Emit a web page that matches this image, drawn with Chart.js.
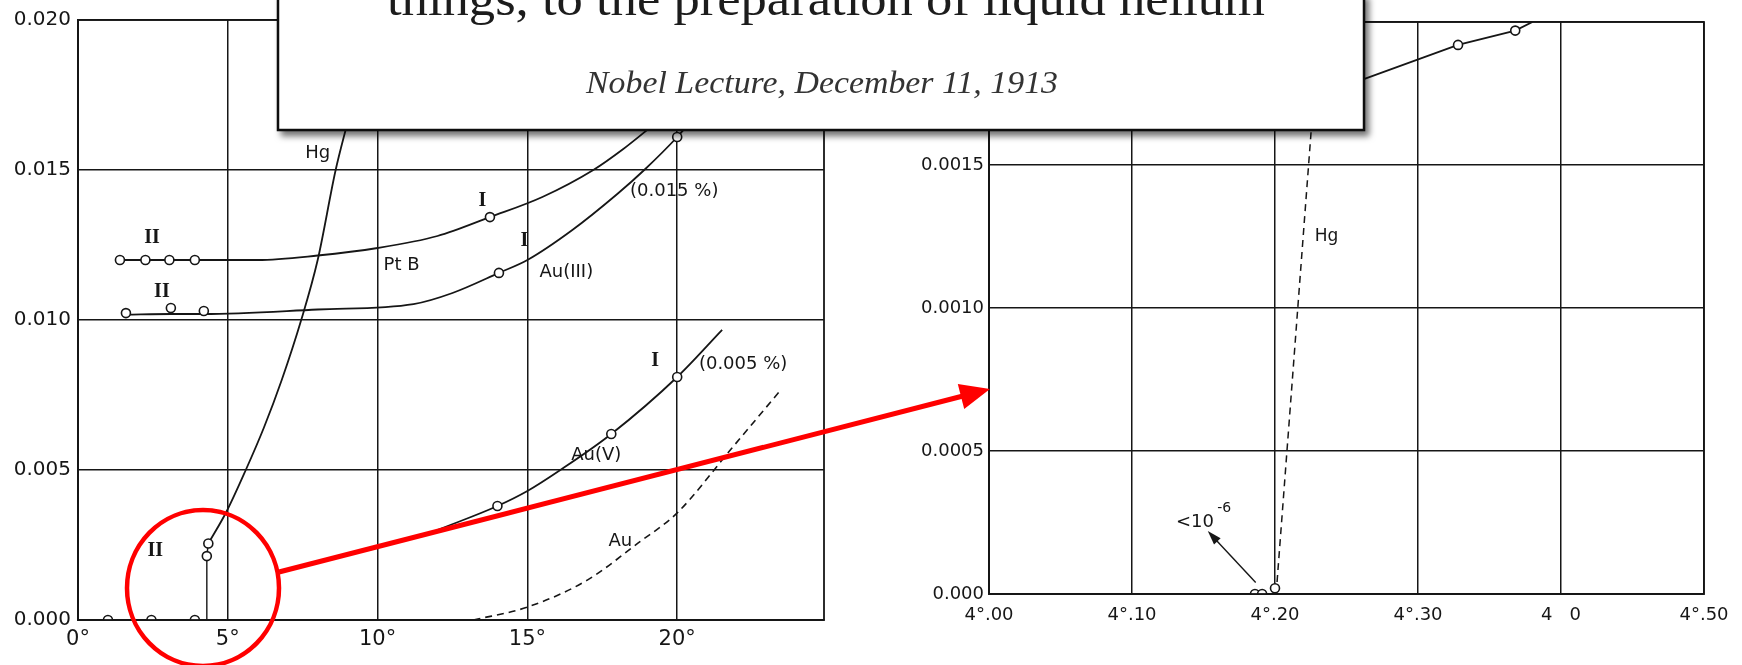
<!DOCTYPE html>
<html>
<head>
<meta charset="utf-8">
<script src="https://cdn.jsdelivr.net/npm/chart.js@4.4.1/dist/chart.umd.min.js"></script>
<style>
  html, body { margin: 0; padding: 0; background: #fff; }
  #page { position: relative; width: 1742px; height: 665px; overflow: hidden; }
  .panel { position: absolute; top: 0; height: 665px; }
  #leftPanel { left: 0; width: 840px; }
  #rightPanel { left: 880px; width: 862px; }
  #overlay { position: absolute; left: 0; top: 0; pointer-events: none; }
</style>
</head>
<body>
<div id="page">
  <div class="panel" id="leftPanel"><canvas id="leftChart"></canvas></div>
  <div class="panel" id="rightPanel"><canvas id="rightChart"></canvas></div>
  <svg id="overlay" width="1742" height="665">
    <defs>
      <filter id="boxShadow" x="-5%" y="-30%" width="112%" height="160%">
        <feDropShadow dx="4" dy="5" stdDeviation="3" flood-color="#000" flood-opacity="0.55"/>
      </filter>
    </defs>
    <rect x="278" y="-6" width="1086" height="136" fill="#fff" stroke="#111" stroke-width="2.5" filter="url(#boxShadow)"/>
    <text x="826" y="15" text-anchor="middle" font-family="'Liberation Serif', serif" font-size="48" fill="#1c1c1c"
          textLength="878" lengthAdjust="spacingAndGlyphs">things, to the preparation of liquid helium</text>
    <text x="822" y="93" text-anchor="middle" font-family="'Liberation Serif', serif" font-style="italic" font-size="32" fill="#333"
          textLength="472" lengthAdjust="spacingAndGlyphs">Nobel Lecture, December 11, 1913</text>
    <!-- zoom marker: circle round the jump, arrow to the detail plot -->
    <ellipse cx="203" cy="588" rx="76" ry="78" fill="none" stroke="#f00" stroke-width="4.5"/>
    <line x1="279" y1="572" x2="963" y2="396" stroke="#f00" stroke-width="5"/>
    <polygon points="990,389 957.8,383.9 964.2,409.1" fill="#f00"/>
  </svg>
</div>

<script>
// Resistance ratio w/w0 against temperature (K), wide range
const ptbPointT = [1.4, 2.25, 3.05, 3.9];
const ptbPointR = [0.0120, 0.0120, 0.0120, 0.0120];
const ptbUpperT = [13.75];
const ptbUpperR = [0.01343];
const ptbCurveT = [1.4, 3.9, 6, 8, 10, 12, 13.75, 15.5, 17.2, 18.2, 19.2];
const ptbCurveR = [0.0120, 0.0120, 0.0120, 0.01215, 0.0124, 0.0128, 0.01343, 0.0141, 0.0150, 0.0157, 0.0165];

const au3PointT = [1.6, 3.1, 4.2, 14.05, 20.0];
const au3PointR = [0.01023, 0.0104, 0.0103, 0.01157, 0.0161];
const au3CurveT = [1.6, 3.1, 4.2, 8, 11.2, 12.5, 14.05, 15, 16.5, 18, 18.9, 20.0, 20.6];
const au3CurveR = [0.01018, 0.0102, 0.0102, 0.01035, 0.01053, 0.0109, 0.01157, 0.0120, 0.0130, 0.0142, 0.0150, 0.0161, 0.0168];

const au5PointT = [14.0, 17.8, 20.0];
const au5PointR = [0.0038, 0.0062, 0.0081];
const au5CurveT = [12.0, 14.0, 15.0, 16.1, 17.8, 20.0, 21.5];
const au5CurveR = [0.0030, 0.0038, 0.0043, 0.0050, 0.0062, 0.0081, 0.00967];

const auPureT = [13.2, 15.0, 17.0, 18.7, 20.0, 21.8, 23.4];
const auPureR = [0, 0.00043, 0.00133, 0.00257, 0.00357, 0.0057, 0.0076];

const hgPointT = [1.0, 2.45, 3.9, 4.3, 4.35];
const hgPointR = [0, 0, 0, 0.00213, 0.00255];
const hgStepT = [0, 3.9, 4.3, 4.3, 4.35];
const hgStepR = [0, 0, 0, 0.00213, 0.00255];
const hgCurveT = [4.35, 4.95, 5.6, 6.2, 6.8, 7.45, 8.0, 8.6, 9.0];
const hgCurveR = [0.00255, 0.0036, 0.0050, 0.0064, 0.0080, 0.0100, 0.0120, 0.0150, 0.0166];

// Detail near the helium boiling point
const hgDetailT = [4.2008, 4.225, 4.2305];
const hgDetailR = [0, 0.0016, 0.0020];
const hgHighT = [4.24, 4.328, 4.368, 4.38];
const hgHighR = [0.00176, 0.00192, 0.00197, 0.0020];
const hgHighPointT = [4.328, 4.368];
const hgHighPointR = [0.00192, 0.00197];
const hgLowPointT = [4.186, 4.191, 4.200];
const hgLowPointR = [0, 0, 0.00002];

// Tick labels
const leftXTickLabels = ['0°', '5°', '10°', '15°', '20°'];
const leftYTickLabels = ['0.000', '0.005', '0.010', '0.015', '0.020'];
const rightXTickLabels = ['4°.00', '4°.10', '4°.20', '4°.30', '4   0', '4°.50'];
const rightYTickLabels = ['0.000', '0.0005', '0.0010', '0.0015', ''];

const INK = '#161616';
const SANS = "'DejaVu Sans', sans-serif";
const ROMAN = "bold 20px 'Liberation Serif', serif";

function pairs(xs, ys) {
    return xs.map((x, i) => ({ x: x, y: ys[i] }));
}

function curve(xs, ys, extra) {
    return Object.assign({
        data: pairs(xs, ys),
        showLine: true,
        borderColor: INK,
        borderWidth: 1.8,
        pointRadius: 0,
        tension: 0.4,
        cubicInterpolationMode: 'monotone',
        fill: false,
        order: 2
    }, extra || {});
}

function points(xs, ys) {
    return {
        data: pairs(xs, ys),
        showLine: false,
        pointRadius: 4.5,
        pointBorderWidth: 1.6,
        pointBorderColor: INK,
        pointBackgroundColor: '#fff',
        order: 0
    };
}

// frame round the plot, text labels and small arrows placed in data units
const framePlugin = {
    id: 'frameAndLabels',
    afterDatasetsDraw(chart, args, opts) {
        const { ctx, chartArea: a } = chart;
        const xs = chart.scales.x, ys = chart.scales.y;
        ctx.save();
        ctx.strokeStyle = INK;
        ctx.lineWidth = 1.8;
        ctx.strokeRect(a.left, a.top, a.right - a.left, a.bottom - a.top);
        ctx.fillStyle = INK;
        ctx.textAlign = 'center';
        ctx.textBaseline = 'middle';
        (opts.labels || []).forEach(l => {
            ctx.font = l.font;
            ctx.fillText(l.text, xs.getPixelForValue(l.x), ys.getPixelForValue(l.y));
        });
        (opts.arrows || []).forEach(ar => {
            const x1 = xs.getPixelForValue(ar.from[0]), y1 = ys.getPixelForValue(ar.from[1]);
            const x2 = xs.getPixelForValue(ar.to[0]), y2 = ys.getPixelForValue(ar.to[1]);
            const ang = Math.atan2(y2 - y1, x2 - x1);
            ctx.lineWidth = 1.4;
            ctx.beginPath();
            ctx.moveTo(x1, y1);
            ctx.lineTo(x2 - 10 * Math.cos(ang), y2 - 10 * Math.sin(ang));
            ctx.stroke();
            ctx.beginPath();
            ctx.moveTo(x2, y2);
            ctx.lineTo(x2 - 14 * Math.cos(ang) + 4.5 * Math.sin(ang), y2 - 14 * Math.sin(ang) - 4.5 * Math.cos(ang));
            ctx.lineTo(x2 - 14 * Math.cos(ang) - 4.5 * Math.sin(ang), y2 - 14 * Math.sin(ang) + 4.5 * Math.cos(ang));
            ctx.closePath();
            ctx.fill();
        });
        ctx.restore();
    }
};

function axisOptions(o) {
    return {
        type: 'linear',
        min: o.min,
        max: o.max,
        grid: { color: INK, lineWidth: 1.5, drawTicks: false },
        border: { display: true, color: INK, width: 1.8 },
        ticks: {
            stepSize: o.step,
            includeBounds: false,
            padding: o.padding,
            color: INK,
            font: { family: SANS, size: o.fontSize },
            callback: (v, i) => o.labels[i]
        },
        afterFit: o.afterFit
    };
}

function makeChart(id, datasets, o) {
    return new Chart(document.getElementById(id), {
        type: 'scatter',
        data: { datasets: datasets },
        plugins: [framePlugin],
        options: {
            responsive: true,
            maintainAspectRatio: false,
            animation: false,
            layout: { padding: o.padding },
            plugins: {
                legend: { display: false },
                tooltip: { enabled: false },
                frameAndLabels: { labels: o.labels, arrows: o.arrows || [] }
            },
            scales: { x: o.x, y: o.y }
        }
    });
}

const LABEL = '18px ' + SANS;

makeChart('leftChart', [
    points(ptbPointT, ptbPointR),
    points(ptbUpperT, ptbUpperR),
    points(au3PointT, au3PointR),
    points(au5PointT, au5PointR),
    points(hgPointT, hgPointR),
    curve(ptbCurveT, ptbCurveR),
    curve(au3CurveT, au3CurveR),
    curve(au5CurveT, au5CurveR),
    curve(auPureT, auPureR, { borderDash: [7, 5], borderWidth: 1.6 }),
    curve(hgStepT, hgStepR, { tension: 0, cubicInterpolationMode: 'default', borderWidth: 1.4 }),
    curve(hgCurveT, hgCurveR)
], {
    padding: { top: 20, right: 16, left: 0, bottom: 0 },
    x: axisOptions({ min: 0, max: 24.9, step: 5, padding: 7, fontSize: 21, labels: leftXTickLabels,
                     afterFit: s => { s.height = 45; } }),
    y: axisOptions({ min: 0, max: 0.020, step: 0.005, padding: 7, fontSize: 20, labels: leftYTickLabels,
                     afterFit: s => { s.width = 78; } }),
    labels: [
        { text: 'Hg', x: 8.0, y: 0.01556, font: LABEL },
        { text: 'II', x: 2.47, y: 0.01274, font: ROMAN },
        { text: 'I', x: 13.5, y: 0.01396, font: ROMAN },
        { text: 'Pt B', x: 10.8, y: 0.01181, font: LABEL },
        { text: 'I', x: 14.9, y: 0.01263, font: ROMAN },
        { text: 'Au(III)', x: 16.3, y: 0.01159, font: LABEL },
        { text: '(0.015 %)', x: 19.9, y: 0.0143, font: LABEL },
        { text: 'II', x: 2.8, y: 0.01093, font: ROMAN },
        { text: 'I', x: 19.26, y: 0.00863, font: ROMAN },
        { text: '(0.005 %)', x: 22.2, y: 0.00852, font: LABEL },
        { text: 'Au(V)', x: 17.3, y: 0.00548, font: LABEL },
        { text: 'Au', x: 18.1, y: 0.00263, font: LABEL },
        { text: 'II', x: 2.58, y: 0.0023, font: ROMAN }
    ]
});

makeChart('rightChart', [
    points(hgHighPointT, hgHighPointR),
    points(hgLowPointT, hgLowPointR),
    curve(hgHighT, hgHighR, { tension: 0, cubicInterpolationMode: 'default' }),
    curve(hgDetailT, hgDetailR, { tension: 0, cubicInterpolationMode: 'default', borderDash: [7, 5], borderWidth: 1.5 })
], {
    padding: { top: 22, right: 38, left: 0, bottom: 0 },
    x: axisOptions({ min: 4.0, max: 4.5, step: 0.1, padding: 11, fontSize: 18, labels: rightXTickLabels,
                     afterFit: s => { s.height = 71; } }),
    y: axisOptions({ min: 0, max: 0.002, step: 0.0005, padding: 5, fontSize: 18, labels: rightYTickLabels,
                     afterFit: s => { s.width = 109; } }),
    labels: [
        { text: 'Hg', x: 4.236, y: 0.00125, font: '17px ' + SANS },
        { text: '<10', x: 4.144, y: 0.000252, font: '18px ' + SANS },
        { text: '-6', x: 4.1645, y: 0.000298, font: '14px ' + SANS }
    ],
    arrows: [{ from: [4.1865, 0.00004], to: [4.153, 0.00022] }]
});
</script>
</body>
</html>
